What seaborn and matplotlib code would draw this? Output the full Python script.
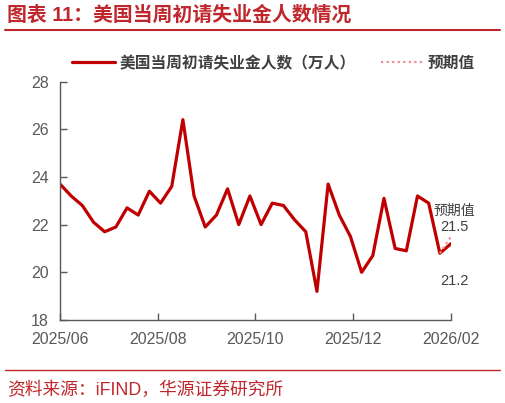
import numpy as np
import pandas as pd
import matplotlib
matplotlib.use("Agg")
import matplotlib.pyplot as plt
import matplotlib.dates as mdates
from matplotlib.lines import Line2D
import seaborn as sns

# Weekly initial jobless claims (10k persons), weeks ending 2025-06-21 .. 2026-02-21
claims = [23.7, 23.2, 22.8, 22.1, 21.7, 21.9, 22.7, 22.4, 23.4, 22.9, 23.6, 26.4,
          23.2, 21.9, 22.4, 23.5, 22.0, 23.2, 22.0, 22.9, 22.8, 22.2, 21.7, 19.2,
          23.7, 22.4, 21.5, 20.0, 20.7, 23.1, 21.0, 20.9, 23.2, 22.9, 20.8, 21.2]
expected_last = 21.5
weeks = pd.date_range("2025-06-21", periods=len(claims), freq="7D")
tick_labels = ["2025/06", "2025/08", "2025/10", "2025/12", "2026/02"]

series_name = "美国当周初请失业金人数（万人）"
exp_name = "预期值"

df = pd.DataFrame({"date": weeks, "value": claims})
exp_df = pd.DataFrame({"date": weeks[-2:], "value": [claims[-2], expected_last]})

sns.set_style("ticks")
plt.rcParams["font.family"] = ["Liberation Sans", "Noto Sans CJK SC", "DejaVu Sans"]

RED = "#C00000"
TITLE_RED = "#C0272D"
GRAY = "#595959"

fig = plt.figure(figsize=(5.06, 4.03), dpi=100)
ax = fig.add_axes([60 / 506, 1 - 320 / 403, 391 / 506, (320 - 81.5) / 403])

sns.lineplot(data=df, x="date", y="value", ax=ax, color=RED, linewidth=2.3)
sns.lineplot(data=exp_df, x="date", y="value", ax=ax, color="#F08C8C",
             linewidth=1.6, linestyle=(0, (1, 1.5)))

x0, x1 = mdates.date2num(weeks[0]), mdates.date2num(weeks[-1])
ax.set_xlim(x0, x1)
ax.set_ylim(18, 28)
ax.set_yticks(np.arange(18, 29, 2))
ax.set_xticks(np.linspace(x0, x1, len(tick_labels)))
ax.set_xticklabels(tick_labels)
ax.set_xlabel("")
ax.set_ylabel("")

for s in ["top", "right"]:
    ax.spines[s].set_visible(False)
for s in ["left", "bottom"]:
    ax.spines[s].set_color(GRAY)
    ax.spines[s].set_linewidth(1.0)
ax.tick_params(direction="in", length=5, width=1, color=GRAY, labelcolor=GRAY,
               labelsize=11.5)
ax.tick_params(axis="x", pad=9)
ax.tick_params(axis="y", pad=8)

# annotations near the last point
last_x = weeks[-1]
ax.annotate(exp_name, (last_x, claims[-1]), xytext=(3, 33), textcoords="offset pixels",
            ha="center", va="center", fontsize=10, color="#404040")
ax.annotate(f"{expected_last:.1f}", (last_x, claims[-1]), xytext=(3, 17),
            textcoords="offset pixels", ha="center", va="center", fontsize=10.5, color="#404040")
ax.annotate(f"{claims[-1]:.1f}", (last_x, claims[-1]), xytext=(3, -37),
            textcoords="offset pixels", ha="center", va="center", fontsize=10.5, color="#404040")

handles = [Line2D([], [], color=RED, linewidth=2.3),
           Line2D([], [], color="#F08C8C", linewidth=1.6, linestyle=(0, (1, 1.5)))]
leg = fig.legend(handles, [series_name, exp_name], loc="center left",
                 bbox_to_anchor=(58 / 506, 1 - 63 / 403), ncol=2, frameon=False,
                 handlelength=2.7, handletextpad=0.3, columnspacing=1.6,
                 prop={"size": 11.3, "weight": "bold"})
for t in leg.get_texts():
    t.set_color("#404040")

# header and footer
fig.text(7 / 506, 1 - 15 / 403, "图表 11：美国当周初请失业金人数情况", ha="left", va="center",
         fontsize=14.3, fontweight="bold", color=TITLE_RED)
fig.add_artist(Line2D([5 / 506, 500 / 506], [1 - 30 / 403] * 2, color=TITLE_RED, linewidth=1.5))
fig.add_artist(Line2D([5 / 506, 500 / 506], [1 - 370 / 403] * 2, color=TITLE_RED, linewidth=1.0))
fig.text(7 / 506, 1 - 390 / 403, "资料来源：iFIND，华源证券研究所", ha="left", va="center",
         fontsize=12.8, color=TITLE_RED)

fig.savefig("out.png", dpi=100)
